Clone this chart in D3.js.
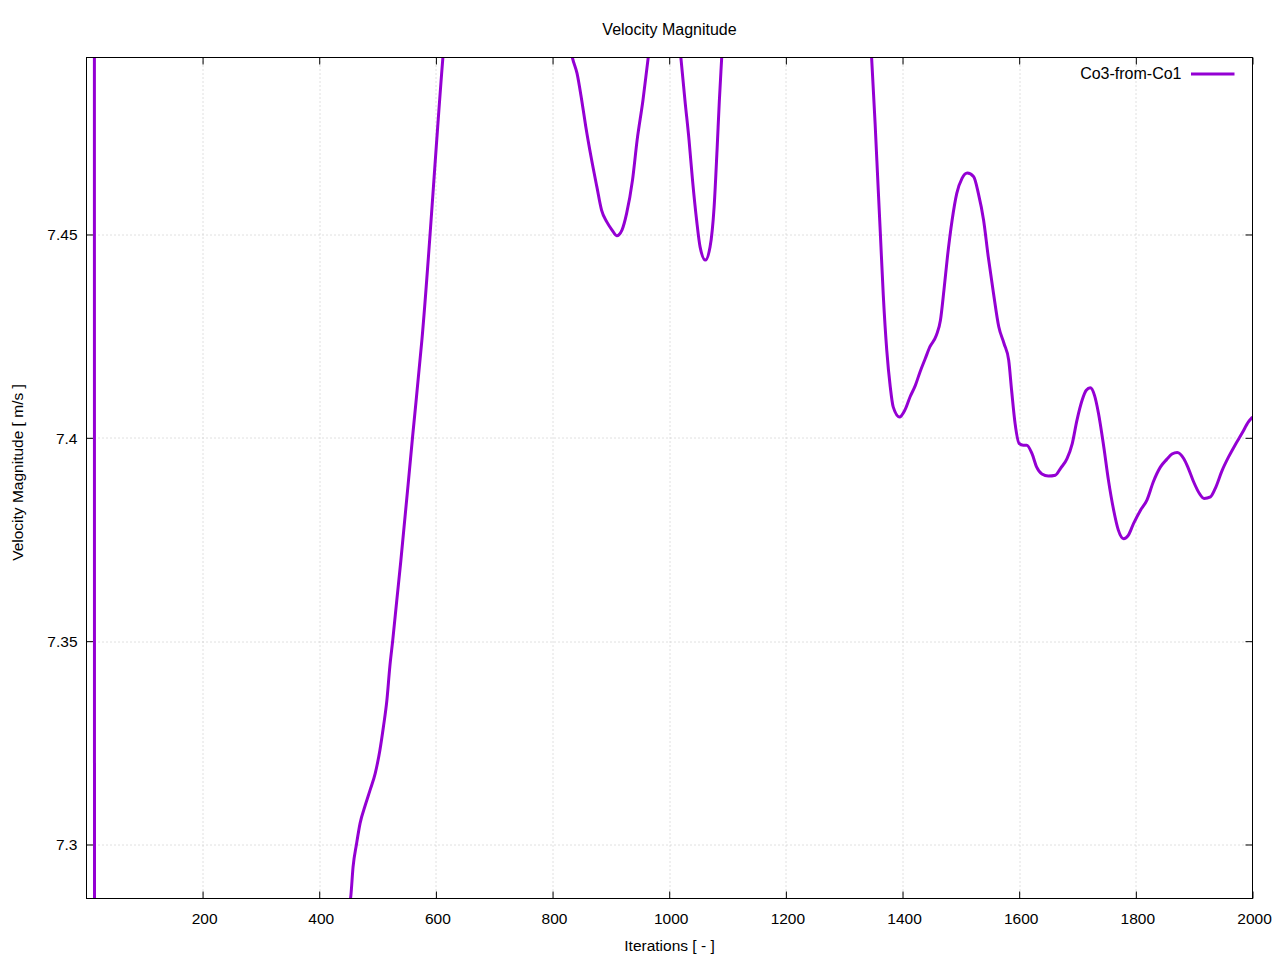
<!DOCTYPE html>
<html>
<head>
<meta charset="utf-8">
<script src="https://cdn.jsdelivr.net/npm/d3@7"></script>
<style>
  body { margin: 0; background: #fff; }
  svg text { font-family: "Liberation Sans", Arial, sans-serif; font-size: 15.5px; fill: #000; }
</style>
</head>
<body>
<script>
// chart data
var iterations = [14, 15, 100, 250, 380, 430, 454, 458, 464, 470, 479, 487, 496, 504, 510, 516, 521, 526, 533, 540,
  560, 576, 612, 650, 700, 760, 800, 834, 842, 850, 857, 866, 876, 884, 893, 902, 910, 919, 927, 937,
  945, 955, 964, 975, 990, 1005, 1015, 1020, 1027, 1034, 1040, 1047, 1053, 1062, 1070, 1077, 1082, 1086, 1090, 1100,
  1130, 1180, 1240, 1300, 1330, 1347, 1353, 1358, 1362, 1367, 1373, 1379, 1384, 1395, 1404, 1413, 1422, 1430, 1439, 1447,
  1458, 1465, 1471, 1477, 1485, 1493, 1502, 1511, 1522, 1530, 1539, 1547, 1556, 1565, 1574, 1582, 1587, 1593, 1600, 1607,
  1613, 1622, 1630, 1639, 1650, 1662, 1671, 1682, 1691, 1699, 1708, 1715, 1722, 1729, 1736, 1745, 1753, 1762, 1770, 1779,
  1787, 1796, 1808, 1819, 1830, 1842, 1853, 1862, 1871, 1882, 1890, 1899, 1909, 1917, 1928, 1936, 1948, 1959, 1970, 1982,
  1993, 2000];

var velocity = [8.2, 6.9, 7.05, 7.17, 7.245, 7.272, 7.2871, 7.2945, 7.3002, 7.3052, 7.3097, 7.3133, 7.3175, 7.3232, 7.3289, 7.3355, 7.3437, 7.3502, 7.3601, 7.3699,
  7.4002, 7.4240, 7.4935, 7.555, 7.585, 7.57, 7.535, 7.4935, 7.4896, 7.4830, 7.4765, 7.4691, 7.4617, 7.4560, 7.4531, 7.4511, 7.4497, 7.4511, 7.4552, 7.4633,
  7.4732, 7.4830, 7.4935, 7.505, 7.515, 7.512, 7.501, 7.4935, 7.4830, 7.4732, 7.4633, 7.4535, 7.4469, 7.4437, 7.4469, 7.4568, 7.4707, 7.4830, 7.4935, 7.52,
  7.56, 7.575, 7.57, 7.55, 7.52, 7.4935, 7.4773, 7.4621, 7.4502, 7.4351, 7.4215, 7.4125, 7.4076, 7.4051, 7.4068, 7.4101, 7.4129, 7.4162, 7.4195, 7.4224,
  7.4252, 7.4289, 7.4363, 7.4445, 7.4535, 7.4601, 7.4638, 7.4651, 7.4642, 7.4601, 7.4535, 7.4445, 7.4355, 7.4273, 7.4232, 7.4191, 7.4117, 7.4035, 7.3986, 7.3982,
  7.3982, 7.3961, 7.3928, 7.3911, 7.3906, 7.3908, 7.3925, 7.3949, 7.3986, 7.4043, 7.4093, 7.4117, 7.4123, 7.4105, 7.4060, 7.3978, 7.3896, 7.3822, 7.3773, 7.3752,
  7.3760, 7.3789, 7.3822, 7.3847, 7.3892, 7.3928, 7.3947, 7.3960, 7.3964, 7.3949, 7.3925, 7.3892, 7.3863, 7.3851, 7.3855, 7.3875, 7.3920, 7.3953, 7.3982, 7.4011,
  7.4039, 7.4051];

var xTicks = [200, 400, 600, 800, 1000, 1200, 1400, 1600, 1800, 2000];
var yTicks = [7.3, 7.35, 7.4, 7.45];
var seriesName = "Co3-from-Co1";

// chart frame
var svgWidth = 1280;
var svgHeight = 960;
var margin = {top: 57.5, right: 27.5, bottom: 61.5, left: 86.5};
var width = svgWidth - margin.left - margin.right;
var height = svgHeight - margin.top - margin.bottom;

var svg = d3.select("body").append("svg")
  .attr("width", svgWidth)
  .attr("height", svgHeight);

var chartGroup = svg.append("g")
  .attr("transform", `translate(${margin.left}, ${margin.top})`);

// scales
var xScale = d3.scaleLinear().domain([1, 2000]).range([0, width]);
var yScale = d3.scaleLinear().domain([7.28672, 7.49352]).range([height, 0]);

// dotted grid
chartGroup.append("g").selectAll("line")
  .data(xTicks.filter(d => d < 2000))
  .join("line")
  .attr("x1", d => Math.round(xScale(d)) + 0.5)
  .attr("x2", d => Math.round(xScale(d)) + 0.5)
  .attr("y1", 0).attr("y2", height)
  .attr("stroke", "#c0c0c0").attr("stroke-width", 1)
  .attr("stroke-dasharray", "1,3");

chartGroup.append("g").selectAll("line")
  .data(yTicks)
  .join("line")
  .attr("x1", 0).attr("x2", width)
  .attr("y1", d => Math.round(yScale(d)) + 0.5)
  .attr("y2", d => Math.round(yScale(d)) + 0.5)
  .attr("stroke", "#c0c0c0").attr("stroke-width", 1)
  .attr("stroke-dasharray", "1,3");

// axes, ticks pointing inward on all four sides
var bottomAxis = d3.axisBottom(xScale).tickValues(xTicks).tickSize(-7).tickFormat(d3.format("d"));
var topAxis = d3.axisTop(xScale).tickValues(xTicks).tickSize(-7).tickFormat("");
var leftAxis = d3.axisLeft(yScale).tickValues(yTicks).tickSize(-7).tickFormat(d => String(d));
var rightAxis = d3.axisRight(yScale).tickValues(yTicks).tickSize(-7).tickFormat("");

function styleAxis(g) {
  g.select(".domain").remove();
  g.selectAll("line").attr("stroke", "#000");
  g.selectAll("text").attr("font-size", null).attr("font-family", null);
}

chartGroup.append("g")
  .attr("transform", `translate(0, ${height})`)
  .call(bottomAxis)
  .call(styleAxis)
  .selectAll("text").attr("y", 25.5).attr("dy", 0).attr("dx", 1.5);

chartGroup.append("g").call(topAxis).call(styleAxis);

chartGroup.append("g")
  .call(leftAxis)
  .call(styleAxis)
  .selectAll("text").attr("x", -9).attr("dy", 5.5);

chartGroup.append("g")
  .attr("transform", `translate(${width}, 0)`)
  .call(rightAxis)
  .call(styleAxis);

// clip + line
chartGroup.append("clipPath").attr("id", "plot-clip")
  .append("rect").attr("width", width).attr("height", height);

var points = iterations.map((x, i) => ({x: x, y: velocity[i]}));

var line = d3.line()
  .x(d => xScale(d.x))
  .y(d => yScale(d.y))
  .curve(d3.curveMonotoneX);

chartGroup.append("path")
  .datum(points)
  .attr("clip-path", "url(#plot-clip)")
  .attr("d", line)
  .attr("fill", "none")
  .attr("stroke", "#9400d3")
  .attr("stroke-width", 3)
  .attr("stroke-linejoin", "round");

// border
chartGroup.append("rect")
  .attr("width", width).attr("height", height)
  .attr("fill", "none").attr("stroke", "#000").attr("stroke-width", 1);

// legend
chartGroup.append("text")
  .attr("x", 1181.5 - margin.left).attr("y", 79.3 - margin.top)
  .attr("text-anchor", "end")
  .style("font-size", "16px")
  .text(seriesName);
chartGroup.append("line")
  .attr("x1", 1191 - margin.left).attr("x2", 1234.5 - margin.left)
  .attr("y1", 74 - margin.top).attr("y2", 74 - margin.top)
  .attr("stroke", "#9400d3").attr("stroke-width", 3);

// titles
svg.append("text")
  .attr("x", 669.5).attr("y", 35)
  .attr("text-anchor", "middle")
  .style("font-size", "16px")
  .text("Velocity Magnitude");

svg.append("text")
  .attr("x", 669.5).attr("y", 951)
  .attr("text-anchor", "middle")
  .text("Iterations [ - ]");

svg.append("text")
  .attr("transform", "translate(23, 472.5) rotate(-90)")
  .attr("text-anchor", "middle")
  .text("Velocity Magnitude [ m/s ]");
</script>
</body>
</html>
